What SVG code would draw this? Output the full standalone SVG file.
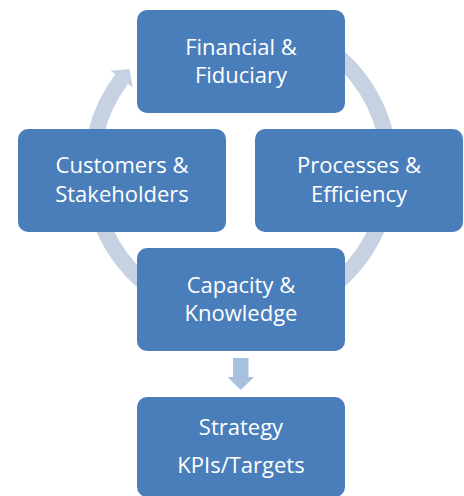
<svg xmlns="http://www.w3.org/2000/svg" width="464" height="496" viewBox="0 0 464 496">
<style>
.box{fill:#4A7EBB;}
.lbl{font-family:"Open Sans","Noto Sans",sans-serif;font-size:22px;fill:#FFFFFF;text-anchor:middle;}
.ring{fill:none;stroke:#C6D1E1;stroke-width:16;}
</style>
<rect width="464" height="496" fill="#FFFFFF"/>
<g id="connectors">
<path class="ring" d="M 279.1 25.1 A 149 149 0 1 1 121.7 79.1"/>
<polygon points="110.5,70.7 132.8,87.6 129.6,68.9" fill="#C6D1E1"/>
<polygon points="233,358 248.5,358 248.5,377 254,377 240.7,390 227.5,377 233,377" fill="#A7C1DF"/>
</g>
<g id="financial">
<rect class="box" x="137" y="10" width="208" height="103" rx="10"/>
<text class="lbl" x="241" y="55">Financial &amp;</text>
<text class="lbl" x="241" y="83.3">Fiduciary</text>
</g>
<g id="customers">
<rect class="box" x="18" y="129" width="208" height="103" rx="10"/>
<text class="lbl" x="122" y="173.3">Customers &amp;</text>
<text class="lbl" x="122" y="201.7">Stakeholders</text>
</g>
<g id="processes">
<rect class="box" x="255" y="129" width="208" height="103" rx="10"/>
<text class="lbl" x="359" y="173.3">Processes &amp;</text>
<text class="lbl" x="359" y="201.7">Efficiency</text>
</g>
<g id="capacity">
<rect class="box" x="137" y="248" width="208" height="103" rx="10"/>
<text class="lbl" x="241" y="292.7">Capacity &amp;</text>
<text class="lbl" x="241" y="321">Knowledge</text>
</g>
<g id="strategy">
<rect class="box" x="137" y="397" width="208" height="100" rx="10"/>
<text class="lbl" x="241" y="435">Strategy</text>
<text class="lbl" x="241" y="473.3">KPIs/Targets</text>
</g>
</svg>
